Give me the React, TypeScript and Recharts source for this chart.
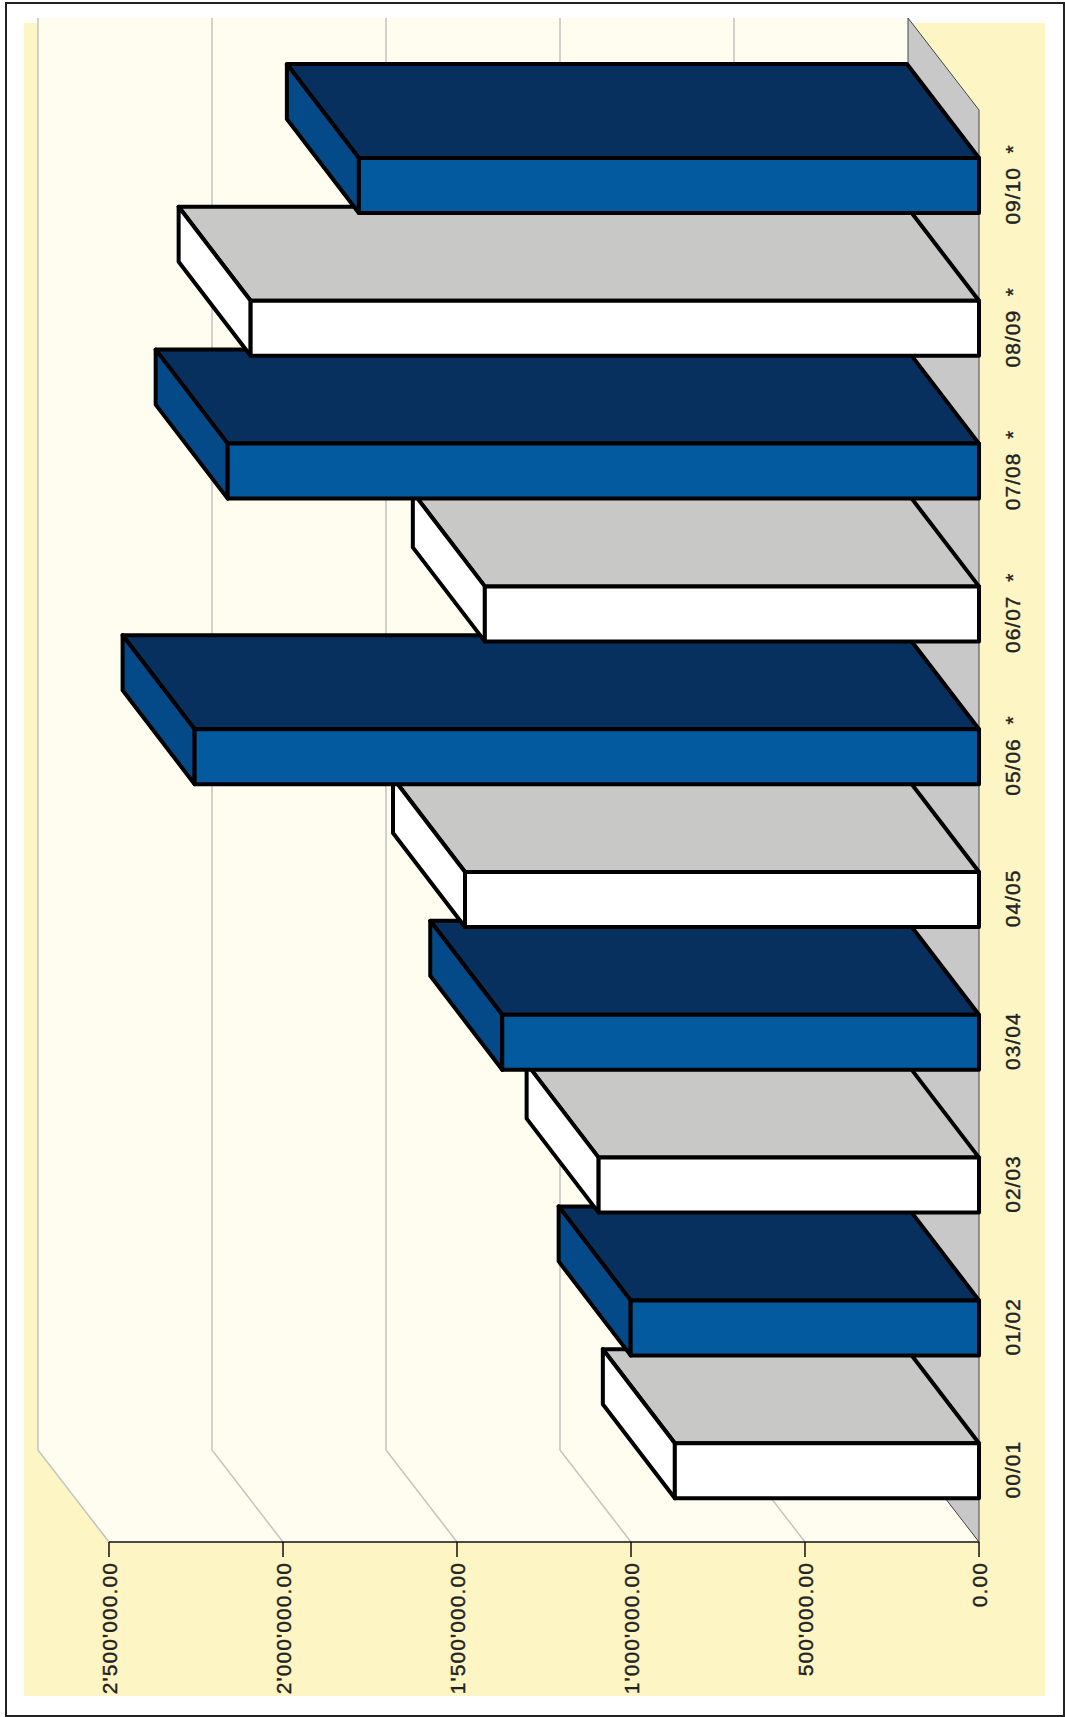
import { BarChart, Bar, XAxis, YAxis, CartesianGrid } from "recharts";

const seasons = ["00/01", "01/02", "02/03", "03/04", "04/05", "05/06", "06/07", "07/08", "08/09", "09/10"];
const seasonMarks = ["", "", "", "", "", "*", "*", "*", "*", "*"];
const amounts = [874000, 1001000, 1093000, 1370000, 1477000, 2254000, 1420000, 2159000, 2093000, 1782000];
const valueTicks = [0, 500000, 1000000, 1500000, 2000000, 2500000];

const data = seasons.map((season, i) => ({
    season: seasonMarks[i] ? `${season}  ${seasonMarks[i]}` : season,
    amount: amounts[i],
}));

// plot box, everything else hangs off it
const PLOT_LEFT = 109;
const PLOT_RIGHT = 979;
const PLOT_TOP = 114;
const PLOT_BOTTOM = 1542;
const WALL_TOP = 18;

// how far the 3D walls and the bars go back
const WALL_X = 71;
const WALL_Y = 92;
const BAR_X = 72;
const BAR_Y = 94;

const FONT = "'Liberation Sans', Arial, sans-serif";

const pts = (list: number[][]) => list.map((p) => p.join(",")).join(" ");

// wall and floor sit in their own svg behind the chart
const Backdrop = () => (
    <svg width={1065} height={1717} style={{ position: "absolute", left: 0, top: 0 }}>
        <polygon
            points={pts([
                [PLOT_LEFT - WALL_X, WALL_TOP],
                [PLOT_RIGHT - WALL_X, WALL_TOP],
                [PLOT_RIGHT - WALL_X, PLOT_BOTTOM - WALL_Y],
                [PLOT_RIGHT, PLOT_BOTTOM],
                [PLOT_LEFT, PLOT_BOTTOM],
                [PLOT_LEFT - WALL_X, PLOT_BOTTOM - WALL_Y],
            ])}
            fill="#FFFDF0"
        />
        <polygon
            points={pts([
                [PLOT_RIGHT - WALL_X, WALL_TOP],
                [PLOT_RIGHT, WALL_TOP + WALL_Y],
                [PLOT_RIGHT, PLOT_BOTTOM],
                [PLOT_RIGHT - WALL_X, PLOT_BOTTOM - WALL_Y],
            ])}
            fill="#C8C8C8"
            stroke="#444"
            strokeWidth={1}
        />
    </svg>
);

const GridLine = (props: any) => {
    const { x1 } = props;
    // the zero line is the floor edge, already drawn
    if (x1 > PLOT_RIGHT - 5) return <g />;
    return (
        <polyline
            points={pts([
                [x1 - WALL_X, WALL_TOP],
                [x1 - WALL_X, PLOT_BOTTOM - WALL_Y],
                [x1, PLOT_BOTTOM],
            ])}
            fill="none"
            stroke="#C4C4C0"
            strokeWidth={1.5}
        />
    );
};

const Bar3D = (props: any) => {
    const { x, y, width, height, index } = props;
    const l = Math.min(x, x + width);
    const r = Math.max(x, x + width);
    const b = y + height;
    const blue = index % 2 === 1;
    const line = { stroke: "#000", strokeWidth: 4, strokeLinejoin: "round" as const };
    return (
        <g>
            <polygon
                points={pts([
                    [l, y],
                    [l - BAR_X, y - BAR_Y],
                    [r - BAR_X, y - BAR_Y],
                    [r, y],
                ])}
                fill={blue ? "#07305F" : "#C8C8C6"}
                {...line}
            />
            <polygon
                points={pts([
                    [l, y],
                    [l - BAR_X, y - BAR_Y],
                    [l - BAR_X, b - BAR_Y],
                    [l, b],
                ])}
                fill={blue ? "#044A88" : "#FFFFFF"}
                {...line}
            />
            <rect x={l} y={y} width={r - l} height={height} fill={blue ? "#045A9F" : "#FFFFFF"} {...line} />
        </g>
    );
};

const formatAmount = (value: number) =>
    value.toFixed(2).replace(/\B(?=(\d{3})+(?!\d))/g, "'");

const AmountTick = (props: any) => {
    const { x, y, payload } = props;
    const tx = x + 8;
    const ty = y + 3;
    return (
        <text
            x={tx}
            y={ty}
            transform={`rotate(-90 ${tx} ${ty})`}
            textAnchor="end"
            fontFamily={FONT}
            fontSize={21}
            letterSpacing={1.1}
            fill="#222"
            stroke="#222"
            strokeWidth={0.4}
        >
            {formatAmount(payload.value)}
        </text>
    );
};

const SeasonTick = (props: any) => {
    const { x, y, payload } = props;
    const tx = x + 41;
    const ty = y - 1;
    return (
        <text
            x={tx}
            y={ty}
            transform={`rotate(-90 ${tx} ${ty})`}
            textAnchor="middle"
            fontFamily={FONT}
            fontSize={21}
            letterSpacing={1}
            fill="#222"
            stroke="#222"
            strokeWidth={0.4}
            style={{ whiteSpace: "pre" }}
        >
            {payload.value}
        </text>
    );
};

const App = () => {
    return (
        <div style={{ position: "absolute", left: 0, top: 0, width: 1065, height: 1717, background: "#fff" }}>
            <div
                style={{
                    position: "absolute",
                    left: 5,
                    top: 2,
                    width: 1056,
                    height: 1711,
                    border: "2px solid #222",
                }}
            />
            <div style={{ position: "absolute", left: 24, top: 23, width: 1021, height: 1673, background: "#FDF5C3" }} />
            <Backdrop />
            <div style={{ position: "absolute", left: 0, top: 0 }}>
                <BarChart
                    width={1065}
                    height={1717}
                    data={data}
                    layout="vertical"
                    margin={{ top: PLOT_TOP, left: PLOT_LEFT, right: 0, bottom: 0 }}
                    style={{ overflow: "visible" }}
                >
                    <CartesianGrid horizontal={false} vertical={(p: any) => <GridLine key={p.key} {...p} />} />
                    <XAxis
                        type="number"
                        dataKey="amount"
                        domain={[0, 2500000]}
                        ticks={valueTicks}
                        reversed
                        height={1717 - PLOT_BOTTOM}
                        tickSize={15}
                        tickMargin={2}
                        interval={0}
                        stroke="#111"
                        strokeWidth={1.5}
                        tick={<AmountTick />}
                    />
                    <YAxis
                        type="category"
                        dataKey="season"
                        orientation="right"
                        reversed
                        width={1065 - PLOT_RIGHT}
                        interval={0}
                        axisLine={false}
                        tickLine={false}
                        tickSize={0}
                        tickMargin={0}
                        tick={<SeasonTick />}
                    />
                    <Bar dataKey="amount" barSize={55} shape={<Bar3D />} isAnimationActive={false} />
                </BarChart>
            </div>
        </div>
    );
};

export default App;
